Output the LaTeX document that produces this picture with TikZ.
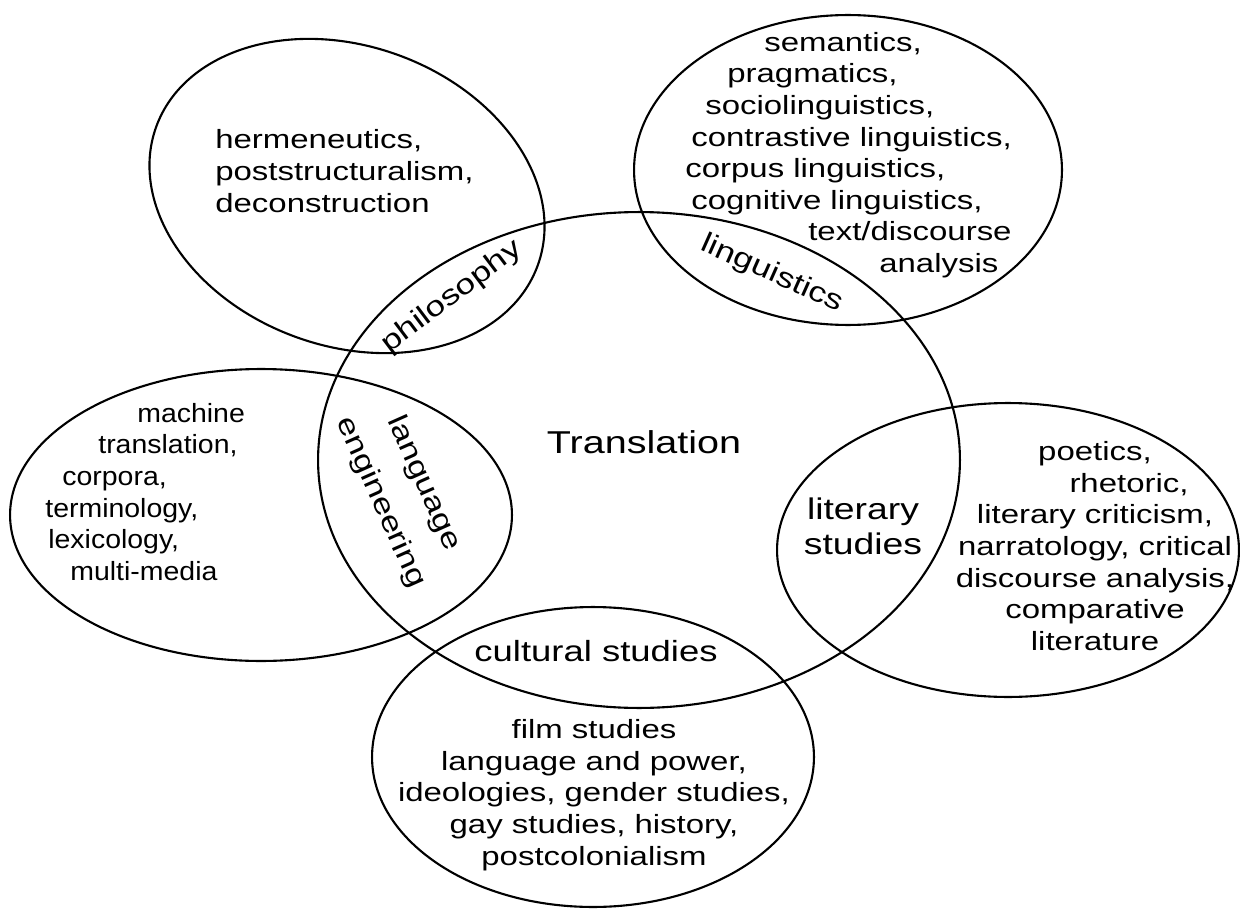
\documentclass[tikz,border=0pt]{standalone}
\usepackage{fontspec}
\setmainfont{Liberation Sans}[FakeStretch=1.25]
\newfontfamily\slimfont{Liberation Sans}[FakeStretch=1.08]
\usetikzlibrary{shapes.geometric}

\begin{document}
\begin{tikzpicture}[x=0.02cm,y=-0.02cm,line join=bevel,
  field/.style={draw,ellipse,line width=1.2pt,inner sep=0pt},
  items/.style={inner sep=0pt,font=\fontsize{15}{18}\selectfont},
  overlap/.style={inner sep=0pt,font=\fontsize{16}{19}\selectfont}]
\useasboundingbox (0,0) rectangle (1240,912);
%%
\node (transl) at (639,460) [field,minimum width=12.84cm,minimum height=9.92cm] {};
  \node (philo) at (347,196) [field,rotate=-20,minimum width=8.12cm,minimum height=6cm] {};
  \node (ling) at (848,170) [field,minimum width=8.56cm,minimum height=6.2cm] {};
  \node (langeng) at (261,515) [field,minimum width=10.04cm,minimum height=5.84cm] {};
  \node (litst) at (1008,550) [field,minimum width=9.24cm,minimum height=5.88cm] {};
  \node (cultst) at (593,757) [field,minimum width=8.84cm,minimum height=6cm] {};
%
\node (transltext) at (644,442) [inner sep=0pt,font=\fontsize{18}{22}\selectfont] {Translation};
  \node (philotext) at (215,171) [items,anchor=west,align=left] {hermeneutics,\\poststructuralism,\\deconstruction};
  \node (lingtext) at (685,155) [items,anchor=west,align=left] {\hspace*{1.58cm}semantics,\\\hspace*{0.84cm}pragmatics,\\\hspace*{0.4cm}sociolinguistics,\\\hspace*{0.12cm}contrastive linguistics,\\corpus linguistics,\\\hspace*{0.12cm}cognitive linguistics,\\\hspace*{2.46cm}text/discourse\\\hspace*{3.88cm}analysis};
  \node (langengtext) at (45,492) [items,anchor=west,align=left,font=\slimfont\fontsize{15}{18}\selectfont] {\hspace*{1.84cm}machine\\\hspace*{1.06cm}translation,\\\hspace*{0.34cm}corpora,\\terminology,\\\hspace*{0.06cm}lexicology,\\\hspace*{0.5cm}multi-media};
  \node (littext) at (1095,546) [items,align=center] {poetics,\\\hspace*{1.36cm}rhetoric,\\literary criticism,\\narratology, critical\\discourse analysis,\\comparative\\literature};
  \node (culttext) at (594,795) [items,align=center] {film studies\\language and power,\\ideologies, gender studies,\\gay studies, history,\\postcolonialism};
%
\node (philolabel) at (452,297) [overlap,rotate=37] {philosophy};
  \node (linglabel) at (772,274) [overlap,rotate=-24] {linguistics};
  \node (langenglabel) at (402,493) [overlap,rotate=-66,align=center,font=\fontsize{16}{27}\selectfont] {language\\engineering};
  \node (litlabel) at (863,526) [overlap,align=center,font=\fontsize{17}{20}\selectfont] {literary\\studies};
  \node (cultlabel) at (596,651) [overlap,font=\fontsize{16.6}{19}\selectfont] {cultural studies};
%
\end{tikzpicture}
\end{document}
